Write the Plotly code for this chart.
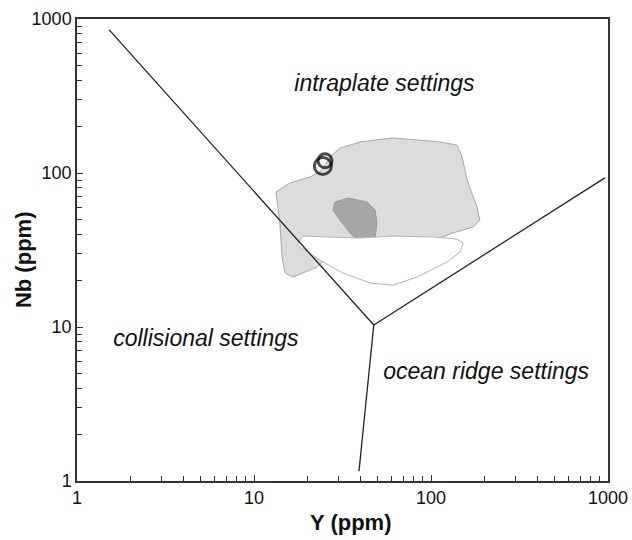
import plotly.graph_objects as go

# Boundary lines (Y ppm, Nb ppm)
syn_y = [1.52, 47.5]
syn_nb = [850, 10.3]
orc_y = [47.5, 960]
orc_nb = [10.3, 93]
ridge_y = [47.5, 39.2]
ridge_nb = [10.3, 1.16]

# Light grey field
light_y = [13.3, 16.0, 20.7, 23.6, 27.6, 30.6, 39.7, 61.0, 112, 140, 150, 160, 182, 189, 173, 133, 112, 66.8, 26.9, 22.7, 16.6, 15.0, 14.4, 14.0, 13.3]
light_nb = [75.3, 86.1, 94.2, 101.5, 131, 145, 159, 169, 159, 152, 127, 90, 60, 49.5, 44.6, 40.8, 37.8, 34.1, 29.4, 24.5, 21.1, 22.4, 28.5, 47.3, 75.3]

# White field
white_y = [18.9, 17.5, 23.6, 31.8, 45.2, 61.0, 83.4, 123, 146, 152, 140, 103, 61.0, 39.7, 25.8, 18.9]
white_nb = [39.0, 34.1, 27.2, 22.4, 19.3, 18.7, 21.1, 26.4, 30.7, 35.1, 37.3, 38.4, 39.0, 37.8, 38.4, 39.0]

# Dark grey field
dark_y = [28.7, 34.0, 43.5, 48.3, 49.5, 48.3, 38.2, 34.9, 30.6, 27.9, 28.7]
dark_nb = [64.8, 68.8, 64.8, 57.5, 47.3, 37.8, 36.7, 40.8, 49.5, 57.5, 64.8]

# Samples
samp_y = [24.5, 25.2]
samp_nb = [111, 120]
samp_size = [17, 14]

labels = ["intraplate settings", "collisional settings", "ocean ridge settings"]
label_y = [54.6, 5.35, 205]
label_nb = [373, 8.24, 5.03]

x_title = "Y (ppm)"
y_title = "Nb (ppm)"

fig = go.Figure()
fig.add_trace(go.Scatter(x=light_y, y=light_nb, mode="lines", fill="toself",
                         fillcolor="#dcdcdc", line=dict(color="#a8a8a8", width=1)))
fig.add_trace(go.Scatter(x=dark_y, y=dark_nb, mode="lines", fill="toself",
                         fillcolor="#a6a6a6", line=dict(color="#999999", width=1)))
fig.add_trace(go.Scatter(x=white_y, y=white_nb, mode="lines", fill="toself",
                         fillcolor="#ffffff", line=dict(color="#b4b4b4", width=1)))
for xs, ys in [(syn_y, syn_nb), (orc_y, orc_nb), (ridge_y, ridge_nb)]:
    fig.add_trace(go.Scatter(x=xs, y=ys, mode="lines", line=dict(color="#222222", width=1.3)))
fig.add_trace(go.Scatter(x=samp_y, y=samp_nb, mode="markers",
                         marker=dict(symbol="circle-open", size=samp_size, color="black",
                                     line=dict(width=3, color="black"))))
fig.add_trace(go.Scatter(x=label_y, y=label_nb, mode="text", text=labels,
                         textfont=dict(family="Liberation Sans", size=23, color="#111111", style="italic")))

axis_common = dict(
    type="log", showline=True, linecolor="#333333", linewidth=1.5, mirror=True,
    showgrid=False, zeroline=False, ticks="inside", ticklen=6, tickcolor="#333333",
    dtick=1, tickfont=dict(family="Liberation Sans", size=18, color="#111111"),
    minor=dict(ticks="inside", ticklen=5, tickcolor="#333333", dtick="D1", showgrid=False),
    automargin=False,
)
title_font = dict(family="Liberation Sans", size=22, color="#111111")
fig.update_layout(
    width=632, height=540, showlegend=False,
    plot_bgcolor="white", paper_bgcolor="white",
    margin=dict(l=77, r=24, t=19, b=59),
    xaxis=dict(axis_common, range=[0, 3]),
    yaxis=dict(axis_common, range=[0, 3]),
    annotations=[
        dict(text="<b>" + x_title + "</b>", xref="paper", yref="paper", x=0.515, y=-0.089,
             showarrow=False, font=title_font, xanchor="center", yanchor="middle"),
        dict(text="<b>" + y_title + "</b>", xref="paper", yref="paper", x=-0.102, y=0.48,
             showarrow=False, font=title_font, textangle=-90, xanchor="center", yanchor="middle"),
    ],
)
fig.write_html("out.html")
